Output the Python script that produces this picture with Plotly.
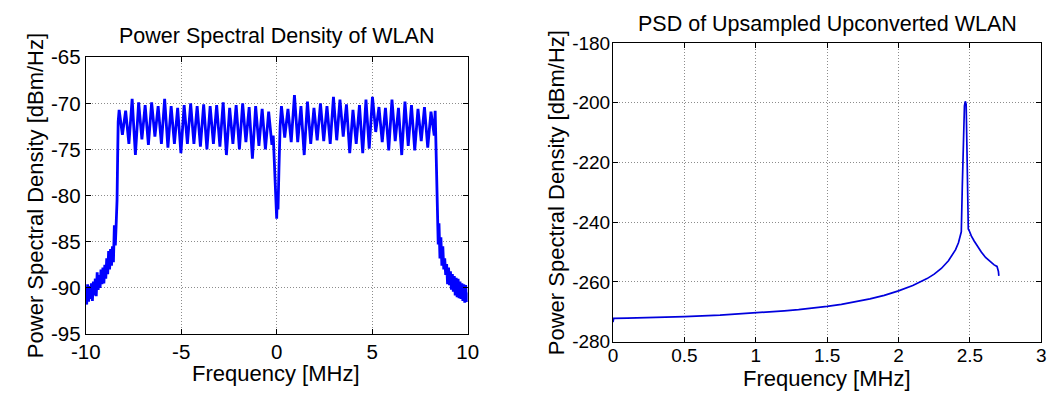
import numpy as np
import plotly.graph_objects as go

# ---------------- Left chart: PSD of WLAN (frequency in MHz, dBm/Hz) ----------------
tail_left_freq = np.linspace(-10.0, -8.40, 33)
tail_left_psd = [-90.0, -91.8, -89.6, -91.5, -89.8, -91.2, -89.5, -91.4, -89.3, -90.8,
                 -89.0, -90.9, -88.3, -90.2, -88.6, -90.0, -88.0, -89.6, -87.8, -89.5,
                 -87.5, -89.0, -86.8, -88.5, -86.0, -88.0, -85.8, -87.6, -85.5, -87.2,
                 -83.2, -85.4, -82.8]
rise_freq = [-8.36, -8.33, -8.30]
rise_psd = [-80.5, -76.0, -72.0]
band_left_freq = np.linspace(-8.25, -0.25, 48)
band_left_psd = [-70.7, -73.4, -70.8, -74.4, -69.5, -75.6, -69.9, -73.9, -70.2, -74.5,
                 -69.9, -73.6, -70.3, -74.4, -69.5, -74.8, -70.3, -74.4, -70.5, -75.4,
                 -70.2, -74.4, -70.0, -74.4, -70.3, -74.7, -70.1, -75.0, -70.3, -74.4,
                 -70.2, -74.7, -69.9, -75.6, -70.5, -74.4, -70.2, -75.0, -70.0, -74.2,
                 -70.4, -76.0, -70.3, -74.6, -70.6, -75.0, -70.9, -74.5]
dip_freq = [-0.18, -0.12, -0.07, -0.03, 0.0, 0.03, 0.07, 0.12, 0.18]
dip_psd = [-73.5, -77.0, -80.5, -82.0, -82.5, -80.0, -81.5, -77.0, -72.5]
band_right_freq = np.linspace(0.25, 8.25, 48)
band_right_psd = [-70.3, -73.7, -70.6, -74.2, -69.1, -74.2, -70.3, -75.6, -69.8, -74.4,
                  -70.5, -74.0, -70.0, -74.1, -70.3, -74.4, -69.3, -74.0, -69.6, -73.6,
                  -70.1, -75.4, -70.7, -74.4, -70.2, -75.4, -69.6, -74.9, -69.3, -73.1,
                  -70.4, -74.2, -70.5, -75.1, -69.6, -74.1, -70.5, -75.6, -69.8, -74.6,
                  -70.2, -75.1, -70.6, -74.1, -70.4, -74.8, -70.9, -73.5]
fall_freq = [8.30, 8.34, 8.38, 8.42, 8.46]
fall_psd = [-70.8, -75.5, -80.5, -82.6, -85.3]
tail_right_freq = np.linspace(8.5, 10.0, 31)
tail_right_psd = [-83.0, -86.8, -84.5, -87.6, -85.5, -88.0, -86.8, -88.6, -87.4, -89.6,
                  -87.8, -89.7, -88.2, -90.2, -88.5, -90.4, -88.7, -90.8, -88.9, -91.0,
                  -89.0, -91.1, -89.3, -91.2, -89.5, -91.4, -89.6, -91.6, -89.7, -91.5,
                  -90.5]

wlan_freq = np.concatenate([tail_left_freq, rise_freq, band_left_freq, dip_freq,
                            band_right_freq, fall_freq, tail_right_freq])
wlan_psd = np.concatenate([tail_left_psd, rise_psd, band_left_psd, dip_psd,
                           band_right_psd, fall_psd, tail_right_psd])

left_xticks = [-10, -5, 0, 5, 10]
left_xticklabels = ["-10", "-5", "0", "5", "10"]
left_yticks = [-95, -90, -85, -80, -75, -70, -65]
left_yticklabels = ["-95", "-90", "-85", "-80", "-75", "-70", "-65"]

# ---------------- Right chart: PSD of upsampled upconverted WLAN ----------------
up_freq = [0.0, 0.005, 0.1, 0.25, 0.5, 0.75, 1.0, 1.1, 1.2, 1.3, 1.4, 1.5, 1.6, 1.7,
           1.8, 1.9, 2.0, 2.1, 2.2, 2.25, 2.3, 2.35, 2.4, 2.42, 2.44, 2.447, 2.455,
           2.462, 2.468, 2.474, 2.479, 2.484, 2.489, 2.495, 2.51, 2.53, 2.555, 2.58,
           2.61, 2.64, 2.67, 2.69, 2.70, 2.703]
up_psd = [-273.5, -272.2, -272.1, -272.0, -271.6, -271.1, -270.4, -270.1, -269.7,
          -269.3, -268.8, -268.2, -267.5, -266.7, -265.7, -264.5, -263.0, -261.2,
          -258.9, -257.4, -255.5, -252.9, -249.2, -246.9, -243.2, -228.0, -210.0,
          -201.0, -199.5, -200.5, -214.0, -232.0, -242.3, -242.8, -244.6, -246.3,
          -248.2, -250.0, -251.8, -253.2, -254.3, -254.8, -256.5, -258.0]

right_xticks = [0, 0.5, 1, 1.5, 2, 2.5, 3]
right_xticklabels = ["0", "0.5", "1", "1.5", "2", "2.5", "3"]
right_yticks = [-280, -260, -240, -220, -200, -180]
right_yticklabels = ["-280", "-260", "-240", "-220", "-200", "-180"]

# ---------------- Figure ----------------
W, H = 1062, 395
FONT = "Liberation Sans, Arial, sans-serif"

fig = go.Figure()
fig.add_trace(go.Scatter(x=wlan_freq, y=wlan_psd, mode="lines",
                         line=dict(color="#0000ff", width=2.8),
                         xaxis="x", yaxis="y", showlegend=False))
fig.add_trace(go.Scatter(x=up_freq, y=up_psd, mode="lines",
                         line=dict(color="#0000dd", width=1.7),
                         xaxis="x2", yaxis="y2", showlegend=False))

L_x = [72.5 / W, 464 / W]
L_y = [(H - 342) / H, (H - 48) / H]
R_x = [613 / W, 1052 / W]
R_y = [(H - 350) / H, (H - 33) / H]


def axis_style(size, standoff):
    return dict(showline=True, linecolor="black", linewidth=1, mirror="ticks",
                ticks="inside", ticklen=5, tickcolor="black",
                showgrid=True, gridcolor="#8c8c8c", gridwidth=1, griddash="1px,2px",
                zeroline=False, tickfont=dict(family=FONT, size=size, color="black"),
                tickmode="array", ticklabelstandoff=standoff)


fig.update_layout(
    width=W, height=H,
    margin=dict(l=0, r=0, t=0, b=0),
    paper_bgcolor="white", plot_bgcolor="white",
    xaxis=dict(domain=L_x, range=[-10, 10], tickvals=left_xticks,
               ticktext=left_xticklabels, anchor="y", **axis_style(20.5, -1)),
    yaxis=dict(domain=L_y, range=[-95, -65], tickvals=left_yticks,
               ticktext=left_yticklabels, anchor="x", **axis_style(20.5, 0)),
    xaxis2=dict(domain=R_x, range=[0, 3], tickvals=right_xticks,
                ticktext=right_xticklabels, anchor="y2", **axis_style(19, -3)),
    yaxis2=dict(domain=R_y, range=[-280, -180], tickvals=right_yticks,
                ticktext=right_yticklabels, anchor="x2", **axis_style(19, -2)),
)

title_font = dict(family=FONT, size=21.5, color="black")
lab_font = dict(family=FONT, size=22, color="black")
annotations = [
    dict(text="Power Spectral Density of WLAN", x=268 / W, y=1 - 25 / H, font=title_font),
    dict(text="PSD of Upsampled Upconverted WLAN", x=832.5 / W, y=1 - 13 / H, font=title_font),
    dict(text="Frequency [MHz]", x=268 / W, y=1 - 384 / H, font=lab_font),
    dict(text="Frequency [MHz]", x=832.5 / W, y=1 - 389 / H, font=lab_font),
    dict(text="Power Spectral Density [dBm/Hz]", x=21 / W, y=1 - 195 / H,
         font=lab_font, textangle=-90),
    dict(text="Power Spectral Density [dBm/Hz]", x=555 / W, y=1 - 192 / H,
         font=lab_font, textangle=-90),
]
for a in annotations:
    fig.add_annotation(xref="paper", yref="paper", xanchor="center", yanchor="middle",
                       showarrow=False, **a)

fig.write_html("out.html")
